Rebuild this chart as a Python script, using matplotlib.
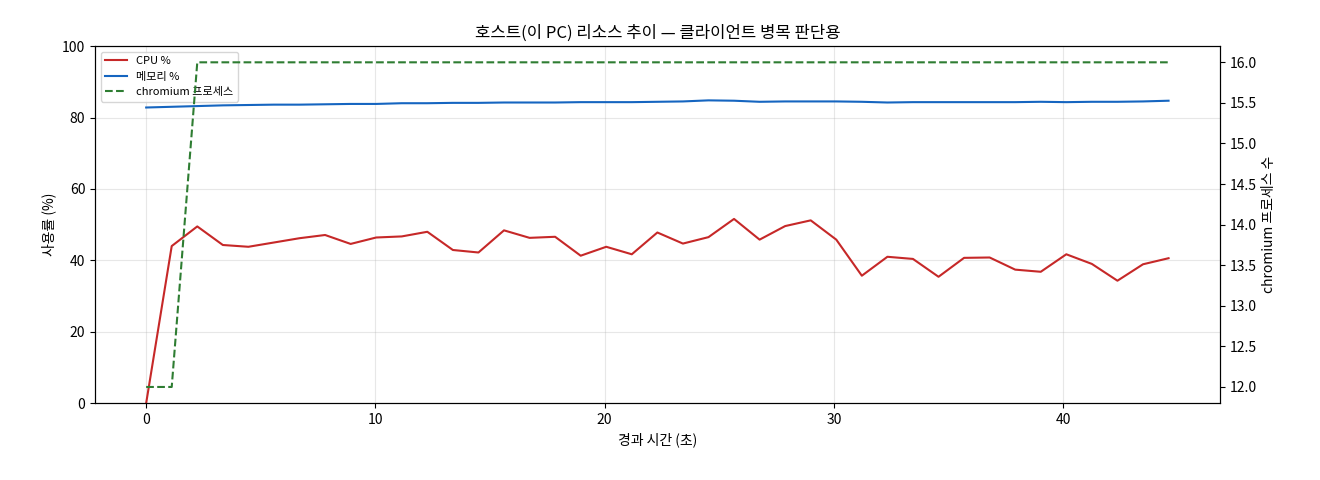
import matplotlib
matplotlib.use("Agg")
import matplotlib.pyplot as plt
import numpy as np

plt.rcParams['font.family'] = ['Noto Sans CJK KR', 'DejaVu Sans']

t = np.linspace(0, 44.6, 41)
cpu = [0, 44, 49.5, 44.3, 43.8, 45, 46.2, 47.1, 44.6, 46.4, 46.7, 48, 42.9, 42.2, 48.4,
       46.3, 46.6, 41.3, 43.8, 41.7, 47.8, 44.7, 46.5, 51.6, 45.8, 49.6, 51.2, 45.8, 35.7, 41,
       40.4, 35.4, 40.7, 40.8, 37.4, 36.8, 41.7, 39, 34.3, 38.9, 40.6]
mem = [82.8, 83.0, 83.2, 83.4, 83.5, 83.6, 83.6, 83.7, 83.8, 83.8, 84.0, 84.0, 84.1, 84.1, 84.2,
       84.2, 84.2, 84.3, 84.3, 84.3, 84.4, 84.5, 84.8, 84.7, 84.4, 84.5, 84.5, 84.5, 84.4, 84.2,
       84.3, 84.3, 84.3, 84.3, 84.3, 84.4, 84.3, 84.4, 84.4, 84.5, 84.7]
chrom = [12, 12] + [16] * 39

fig, ax = plt.subplots(figsize=(13.2, 4.8), dpi=100)
l1, = ax.plot(t, cpu, color='#c62828', lw=1.5, label='CPU %')
l2, = ax.plot(t, mem, color='#1565c0', lw=1.5, label='메모리 %')
ax.set_ylim(0, 100)
ax.set_xlabel('경과 시간 (초)')
ax.set_ylabel('사용률 (%)')
ax.grid(alpha=0.3)
ax2 = ax.twinx()
l3, = ax2.plot(t, chrom, color='#2e7d32', lw=1.5, ls='--', label='chromium 프로세스')
ax2.set_ylabel('chromium 프로세스 수')
ax.set_title('호스트(이 PC) 리소스 추이 — 클라이언트 병목 판단용')
ax.legend(handles=[l1, l2, l3], loc='upper left', fontsize=8)
fig.subplots_adjust(left=0.072, right=0.924, top=0.904, bottom=0.16)
fig.savefig('out.png')
